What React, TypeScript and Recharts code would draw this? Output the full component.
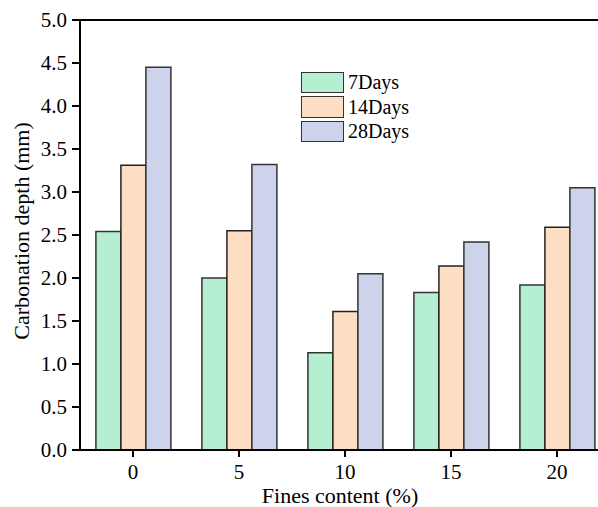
import React from 'react';
import { BarChart, Bar, XAxis, YAxis, Legend, Label, ReferenceLine } from 'recharts';

const categories = ['0', '5', '10', '15', '20'];
const days7 = [2.54, 2.0, 1.13, 1.83, 1.92];
const days14 = [3.31, 2.55, 1.61, 2.14, 2.59];
const days28 = [4.45, 3.32, 2.05, 2.42, 3.05];
const yTicks = [0, 0.5, 1.0, 1.5, 2.0, 2.5, 3.0, 3.5, 4.0, 4.5, 5.0];

const seriesNames = ['7Days', '14Days', '28Days'];
const seriesColors = ['#B5EED0', '#FEDEC3', '#CDD3EA'];

const data = categories.map((c, i) => ({
  fines: c,
  d7: days7[i],
  d14: days14[i],
  d28: days28[i],
}));

const FONT = "'Liberation Serif', 'Times New Roman', serif";

const LegendContent = () => (
  <div style={{ fontFamily: FONT, fontSize: 20, color: '#000' }}>
    {seriesNames.map((n, i) => (
      <div key={n} style={{ display: 'flex', alignItems: 'center', height: 24.5 }}>
        <div
          style={{
            width: 41,
            height: 19.5,
            background: seriesColors[i],
            border: '1.5px solid #333',
            marginRight: 4,
          }}
        />
        <span style={{ lineHeight: '20px' }}>{n}</span>
      </div>
    ))}
  </div>
);

export default function App() {
  return (
    <div
      style={{
        position: 'absolute',
        left: 0,
        top: 0,
        width: 598,
        height: 507,
        overflow: 'hidden',
        background: '#fff',
        fontFamily: FONT,
      }}
    >
      <BarChart
        width={610}
        height={507}
        data={data}
        margin={{ top: 20, right: 0, left: 0, bottom: 0 }}
        barGap={0}
        barCategoryGap="15%"
        style={{ fontFamily: FONT }}
      >
        <XAxis
          dataKey="fines"
          height={57}
          axisLine={{ stroke: '#000', strokeWidth: 2 }}
          tickLine={{ stroke: '#000', strokeWidth: 2 }}
          tickSize={7}
          tickMargin={7}
          tick={{ fill: '#000', fontSize: 21, fontFamily: FONT }}
        >
          <Label
            content={() => (
              <text
                x={340}
                y={503}
                textAnchor="middle"
                fontSize={22}
                fontFamily={FONT}
                fill="#000"
              >
                Fines content (%)
              </text>
            )}
          />
        </XAxis>
        <YAxis
          width={80}
          domain={[0, 5]}
          ticks={yTicks}
          interval={0}
          allowDataOverflow
          tickFormatter={(v: number) => v.toFixed(1)}
          axisLine={{ stroke: '#000', strokeWidth: 2 }}
          tickLine={{ stroke: '#000', strokeWidth: 2 }}
          tickSize={8}
          tickMargin={5}
          tick={{ fill: '#000', fontSize: 21, fontFamily: FONT }}
        >
          <Label
            content={() => (
              <text
                x={29}
                y={231}
                transform="rotate(-90 29 231)"
                textAnchor="middle"
                fontSize={22}
                fontFamily={FONT}
                fill="#000"
              >
                Carbonation depth (mm)
              </text>
            )}
          />
        </YAxis>
        <ReferenceLine y={5} stroke="#000" strokeWidth={2} ifOverflow="extendDomain" />
        <Legend
          content={<LegendContent />}
          layout="vertical"
          verticalAlign="middle"
          align="center"
          wrapperStyle={{ position: 'absolute', left: 301, top: 70, width: 'auto', height: 'auto' }}
        />
        <Bar dataKey="d7" name={seriesNames[0]} fill={seriesColors[0]} stroke="#333" strokeWidth={1.5} isAnimationActive={false} />
        <Bar dataKey="d14" name={seriesNames[1]} fill={seriesColors[1]} stroke="#222" strokeWidth={1.5} isAnimationActive={false} />
        <Bar dataKey="d28" name={seriesNames[2]} fill={seriesColors[2]} stroke="#333" strokeWidth={1.5} isAnimationActive={false} />
      </BarChart>
    </div>
  );
}
